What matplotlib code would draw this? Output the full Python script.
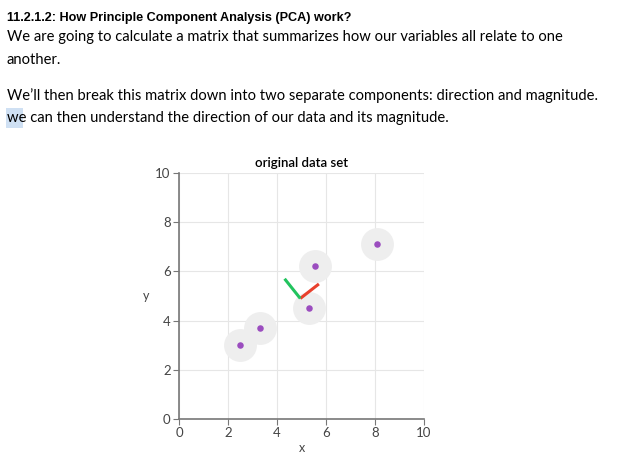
import matplotlib
matplotlib.use("Agg")
import matplotlib.pyplot as plt
from matplotlib.patches import Rectangle

# data
xs = [2.5, 3.3, 5.3, 5.55, 8.1]
ys = [3.0, 3.7, 4.5, 6.2, 7.1]
center = (4.95, 4.9)
pc1 = (0.76, 0.59)    # red
pc2 = (-0.64, 0.80)   # green
ticks = [0, 2, 4, 6, 8, 10]

heading = "11.2.1.2: How Principle Component Analysis (PCA) work?"
body = [
    ("We are going to calculate a matrix that summarizes how our variables all relate to one", 37),
    ("another.", 60),
    ("We\u2019ll then break this matrix down into two separate components: direction and magnitude.", 96),
    ("we can then understand the direction of our data and its magnitude.", 118),
]

W, H = 628, 455
fig = plt.figure(figsize=(W / 100, H / 100), dpi=100)

def fx(px):
    return px / W

def fy(py):
    return 1 - py / H

# selection highlight behind "we"
fig.patches.append(Rectangle((fx(6), fy(128)), 17 / W, 20 / H, transform=fig.transFigure,
                             facecolor="#cfe0f3", edgecolor="none", zorder=0))

fig.text(fx(7), fy(18), heading, fontsize=9.1, fontweight="bold",
         family="Liberation Sans", va="center", ha="left")
for line, py in body:
    fig.text(fx(7), fy(py), line, fontsize=10.6, family="Lato", va="center", ha="left")

# chart
ax = fig.add_axes([fx(179), fy(419), (424 - 179) / W, (419 - 173) / H])
ax.scatter(xs, ys, s=560, color="#eeeeee", zorder=2, linewidths=0)
ax.scatter(xs, ys, s=22, color="#9b4dbf", zorder=3, linewidths=0)
ax.plot([center[0], center[0] + pc1[0]], [center[1], center[1] + pc1[1]],
        color="#e8402c", lw=2.2, zorder=4, solid_capstyle="butt")
ax.plot([center[0], center[0] + pc2[0]], [center[1], center[1] + pc2[1]],
        color="#22c35e", lw=2.2, zorder=4, solid_capstyle="butt")

ax.set_xlim(0, 10)
ax.set_ylim(0, 10)
ax.set_xticks(ticks)
ax.set_yticks(ticks)
ax.grid(True, color="#e6e6e6", lw=0.8)
ax.set_axisbelow(True)
for s in ["top", "right"]:
    ax.spines[s].set_visible(False)
for s in ["left", "bottom"]:
    ax.spines[s].set_color("#777777")
    ax.spines[s].set_linewidth(1.2)
ax.tick_params(colors="#777777", labelcolor="#444444", length=4, labelsize=9.5, pad=2)
for lab in ax.get_xticklabels() + ax.get_yticklabels():
    lab.set_family("Lato")
ax.set_xlabel("x", fontsize=9, family="Lato", color="#444444", va="center")
ax.set_ylabel("y", fontsize=9, family="Lato", color="#444444", rotation=0, va="center")
ax.xaxis.set_label_coords(0.5, -0.118)
ax.yaxis.set_label_coords(-0.135, 0.5)
ax.set_title("original data set", fontsize=9.5, family="Lato", fontweight="semibold", pad=4)

fig.savefig("out.png", dpi=100)
